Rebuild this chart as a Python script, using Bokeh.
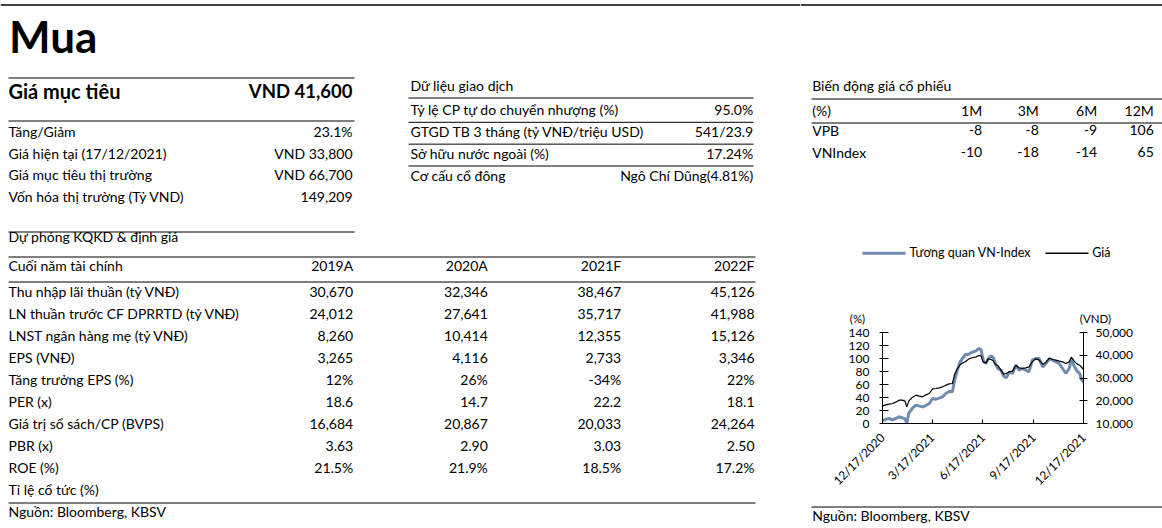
import math
import pandas as pd
from bokeh.plotting import figure
from bokeh.models import (ColumnDataSource, Range1d, LinearAxis, FixedTicker,
                          NumeralTickFormatter)
from bokeh.layouts import row, column
from bokeh.embed import file_html
from bokeh.resources import INLINE
from bokeh.core.properties import value

FONT = "Lato"

# ---------------- data ----------------
rating = "Mua"
target_label = "Giá mục tiêu"
target_value = "VND 41,600"
summary_labels = ["Tăng/Giảm", "Giá hiện tại (17/12/2021)",
                  "Giá mục tiêu thị trường", "Vốn hóa thị trường (Tỷ VND)"]
summary_values = ["23.1%", "VND 33,800", "VND 66,700", "149,209"]

trading_title = "Dữ liệu giao dịch"
trading_labels = ["Tỷ lệ CP tự do chuyển nhượng (%)",
                  "GTGD TB 3 tháng (tỷ VNĐ/triệu USD)",
                  "Sở hữu nước ngoài (%)", "Cơ cấu cổ đông"]
trading_values = ["95.0%", "541/23.9", "17.24%", "Ngô Chí Dũng(4.81%)"]

perf_title = "Biến động giá cổ phiếu"
perf_header = ["(%)", "1M", "3M", "6M", "12M"]
perf_names = ["VPB", "VNIndex"]
perf_vpb = [-8, -8, -9, 106]
perf_vnindex = [-10, -18, -14, 65]

fc_title = "Dự phóng KQKD & định giá"
fc_header = "Cuối năm tài chính"
fc_years = ["2019A", "2020A", "2021F", "2022F"]
fc_labels = ["Thu nhập lãi thuần (tỷ VNĐ)", "LN thuần trước CF DPRRTD (tỷ VNĐ)",
             "LNST ngân hàng mẹ (tỷ VNĐ)", "EPS (VNĐ)", "Tăng trưởng EPS (%)",
             "PER (x)", "Giá trị sổ sách/CP (BVPS)", "PBR (x)", "ROE (%)",
             "Tỉ lệ cổ tức (%)"]
fc_2019 = ["30,670", "24,012", "8,260", "3,265", "12%", "18.6", "16,684", "3.63", "21.5%", ""]
fc_2020 = ["32,346", "27,641", "10,414", "4,116", "26%", "14.7", "20,867", "2.90", "21.9%", ""]
fc_2021 = ["38,467", "35,717", "12,355", "2,733", "-34%", "22.2", "20,033", "3.03", "18.5%", ""]
fc_2022 = ["45,126", "41,988", "15,126", "3,346", "22%", "18.1", "24,264", "2.50", "17.2%", ""]
source_text = "Nguồn: Bloomberg, KBSV"

# chart series
chart_dates = [
    "2020-12-17", "2020-12-23", "2020-12-29", "2021-01-04", "2021-01-10", "2021-01-16",
    "2021-01-22", "2021-01-27", "2021-01-30", "2021-02-03", "2021-02-09", "2021-02-16",
    "2021-02-22", "2021-02-28", "2021-03-06", "2021-03-12", "2021-03-18", "2021-03-24",
    "2021-03-30", "2021-04-05", "2021-04-11", "2021-04-17", "2021-04-23", "2021-04-27",
    "2021-05-02", "2021-05-07", "2021-05-12", "2021-05-17", "2021-05-22", "2021-05-26",
    "2021-05-31", "2021-06-05", "2021-06-10", "2021-06-14", "2021-06-18", "2021-06-23",
    "2021-06-27", "2021-07-02", "2021-07-06", "2021-07-10", "2021-07-15", "2021-07-20",
    "2021-07-25", "2021-07-30", "2021-08-04", "2021-08-10", "2021-08-16", "2021-08-22",
    "2021-08-28", "2021-09-03", "2021-09-09", "2021-09-15", "2021-09-21", "2021-09-27",
    "2021-10-04", "2021-10-10", "2021-10-16", "2021-10-22", "2021-10-28", "2021-11-03",
    "2021-11-09", "2021-11-15", "2021-11-21", "2021-11-25", "2021-11-30", "2021-12-05",
    "2021-12-10", "2021-12-14", "2021-12-17"]
rel_vnindex = [
    4.1, 6.7, 7.7, 5.6, 7.7, 10.3, 8.7, 7.2, 0.0, 16.4,
    23.1, 28.2, 26.7, 25.6, 27.7, 30.8, 38.5, 37.4, 39.0, 41.0,
    46.2, 49.2, 48.7, 66.7, 82.1, 94.9, 101.0, 106.7, 106.2, 108.7,
    110.3, 111.8, 115.4, 113.8, 96.4, 92.3, 100.0, 104.1, 101.5, 91.3,
    84.1, 82.1, 72.8, 70.3, 79.5, 76.9, 89.7, 82.1, 84.6, 82.1,
    79.5, 97.4, 100.0, 100.0, 87.2, 92.3, 100.0, 97.4, 94.9, 92.3,
    84.6, 76.9, 84.6, 99.5, 88.2, 81.0, 76.9, 66.7, 63.1]
price = [
    17760, 18200, 18500, 18790, 19380, 20260, 20260, 19820, 17330, 19960,
    21430, 22450, 22010, 21720, 22600, 23190, 25240, 25380, 25680, 26120,
    26850, 27430, 27580, 31680, 34170, 35780, 36660, 37250, 38270, 38710,
    39010, 39300, 39890, 39740, 36960, 36660, 38420, 38130, 37540, 36080,
    35340, 33440, 31680, 31980, 32710, 33000, 35640, 34470, 34170, 34470,
    34910, 37100, 38420, 37980, 36080, 36960, 38710, 38130, 37840, 37400,
    37100, 36370, 37100, 39150, 37400, 36220, 35640, 34610, 33800]
series_names = ["Tương quan VN-Index", "Giá"]
series_colors = ["#6F8BAF", "black"]
pct_ticks = [0, 20, 40, 60, 80, 100, 120, 140]
price_ticks = [10000, 20000, 30000, 40000, 50000]
date_ticks = ["2020-12-17", "2021-03-17", "2021-06-17", "2021-09-17", "2021-12-17"]
date_tick_labels = ["12/17/2020", "3/17/2021", "6/17/2021", "9/17/2021", "12/17/2021"]
pct_axis_title = "(%)"
price_axis_title = "(VND)"

# ---------------- helpers ----------------
BODY = 14
MID = 0.38   # distance from alphabetic baseline to the "middle" baseline, in em


def canvas(w, h):
    p = figure(width=w, height=h, x_range=Range1d(0, w), y_range=Range1d(h, 0),
               output_backend="svg", toolbar_location=None, min_border=0,
               x_axis_location=None, y_axis_location=None,
               outline_line_color=None, background_fill_color="white",
               border_fill_color="white")
    p.grid.visible = False
    p.frame_align = False
    return p


def txt(p, xs, baselines, texts, align="left", size=BODY, style="normal"):
    """Place texts so that their alphabetic baseline sits at the given y."""
    ys = [b - MID * size for b in baselines]
    src = ColumnDataSource(dict(x=xs, y=ys, text=texts))
    p.text(x="x", y="y", text="text", source=src, text_align=align,
           text_baseline="middle", text_font=value(FONT),
           text_font_size=f"{size}px", text_font_style=style, text_color="black")


def rules(p, x0, x1, ys, width=1.0, color="black"):
    p.segment(x0=[x0] * len(ys), x1=[x1] * len(ys), y0=ys, y1=ys,
              line_color=color, line_width=width)


# ---------------- left canvas (page x 0..800) ----------------
L = canvas(800, 528)
rules(L, 0, 800, [4.5], 1.5)
txt(L, [8.5], [52], [rating], size=44, style="bold")
rules(L, 8, 354, [77.5, 120.5, 231.5])
txt(L, [8], [97.7], [target_label], size=20, style="bold")
txt(L, [352], [97.7], [target_value], align="right", size=18.5, style="bold")
sy = [136 + 21.85 * i for i in range(len(summary_labels))]
txt(L, [8] * len(sy), sy, summary_labels)
txt(L, [352] * len(sy), sy, summary_values, align="right")

# trading block
txt(L, [410], [90.7], [trading_title])
ty = [114.8 + 21.85 * i for i in range(len(trading_labels))]
rules(L, 408, 753, [97.5] + [y + 7 for y in ty[:-1]])
txt(L, [410] * len(ty), ty, trading_labels)
txt(L, [752.7] * len(ty), ty, trading_values, align="right")

# forecast table
txt(L, [8], [241.7], [fc_title])
rules(L, 8, 755, [256.5, 281.5, 502.5])
col_x = [352.7, 487.3, 620.7, 754]
txt(L, [8], [270], [fc_header])
txt(L, col_x, [270] * 4, fc_years, align="right")
fy = [296.7 + 21.95 * i for i in range(len(fc_labels))]
txt(L, [8] * len(fy), fy, fc_labels)
for cx, vals in zip(col_x, [fc_2019, fc_2020, fc_2021, fc_2022]):
    txt(L, [cx] * len(fy), fy, vals, align="right")
txt(L, [8], [516.7], [source_text])

# ---------------- right top canvas (page x 800..1162, y 0..325) ----------------
R = canvas(362, 325)
rules(R, 0, 362, [4.5], 1.5)
txt(R, [11.7], [90.7], [perf_title])
rules(R, 11, 362, [98.5, 122.5])
pc_x = [181.7, 238.3, 296.7, 353.3]
txt(R, [11.7], [115], [perf_header[0]])
txt(R, pc_x, [115] * 4, perf_header[1:], align="right")
txt(R, [11.7, 11.7], [135, 157.3], perf_names)
txt(R, pc_x, [135] * 4, [str(v) for v in perf_vpb], align="right")
txt(R, pc_x, [157.3] * 4, [str(v) for v in perf_vnindex], align="right")

# legend keys and axis titles of the chart
R.segment(x0=[62, 245], x1=[105, 288], y0=[252.7, 252.7], y1=[252.7, 252.7],
          line_color=series_colors, line_width=[3, 1.5])
txt(R, [109, 291.7], [256.5, 256.5], series_names, size=12.5)
txt(R, [57, 295], [322, 322], [pct_axis_title, price_axis_title], align="center",
    size=11.5)

# ---------------- chart (page x 800..1162, y 325..500) ----------------
dts = pd.to_datetime(chart_dates)
C = figure(width=362, height=175, x_axis_type="datetime",
           x_range=Range1d(dts[0], dts[-1]), y_range=Range1d(0, 140),
           output_backend="svg", toolbar_location=None,
           min_border_left=82, min_border_right=79, min_border_top=7,
           min_border_bottom=77, outline_line_color=None,
           background_fill_color="white", border_fill_color="white")
C.frame_align = False
C.grid.visible = False
C.extra_y_ranges = {"price": Range1d(10000, 50000)}
C.add_layout(LinearAxis(y_range_name="price"), "right")

src = ColumnDataSource(dict(date=dts, rel=rel_vnindex, price=price))
C.line("date", "rel", source=src, line_color=series_colors[0], line_width=3)
C.line("date", "price", source=src, y_range_name="price",
       line_color=series_colors[1], line_width=1.2)

for ax in list(C.xaxis) + list(C.yaxis):
    ax.axis_line_color = "black"
    ax.major_tick_line_color = "black"
    ax.minor_tick_line_color = None
    ax.major_label_text_font = FONT
    ax.major_label_text_font_size = "12px"
    ax.major_label_text_color = "black"

C.yaxis[0].ticker = FixedTicker(ticks=pct_ticks)
C.yaxis[0].major_tick_in = 6
C.yaxis[0].major_tick_out = 3
C.yaxis[0].major_label_standoff = 10
C.yaxis[1].ticker = FixedTicker(ticks=price_ticks)
C.yaxis[1].formatter = NumeralTickFormatter(format="0,0")
C.yaxis[1].major_tick_in = 4
C.yaxis[1].major_tick_out = 4
C.yaxis[1].major_label_standoff = 8

tick_ms = [int(pd.Timestamp(d).value // 10**6) for d in date_ticks]
C.xaxis.ticker = FixedTicker(ticks=tick_ms)
C.xaxis.major_label_overrides = dict(zip(tick_ms, date_tick_labels))
C.xaxis.major_label_orientation = math.pi / 4
C.xaxis.major_tick_in = 4
C.xaxis.major_tick_out = 0
C.xaxis.major_label_standoff = 12

# ---------------- right bottom canvas (page y 500..528) ----------------
B = canvas(362, 28)
rules(B, 11, 362, [6.5])
txt(B, [11.7], [20], [source_text])

page = row(L, column(R, C, B, spacing=0), spacing=0)
open("out.html", "w").write(file_html(page, INLINE))
